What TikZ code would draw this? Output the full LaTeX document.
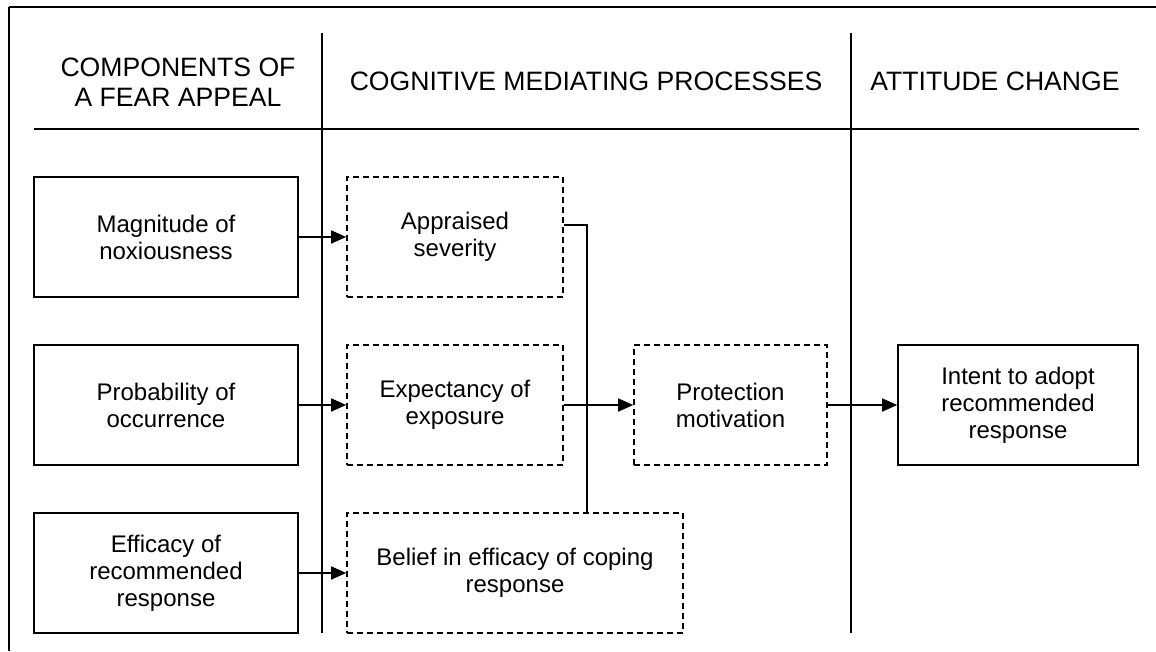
\documentclass[tikz,border=0pt]{standalone}
\usepackage{fontspec}
\setmainfont{Liberation Sans}
\usetikzlibrary{arrows.meta,calc}
\begin{document}
\begin{tikzpicture}[x=1pt,y=-1pt,
  line width=1.6pt,
  headtext/.style={align=center,font=\fontsize{26.6}{30}\selectfont,inner sep=0pt},
  boxtext/.style={align=center,font=\fontsize{24}{27}\selectfont},
  solidbox/.style={draw,boxtext,minimum height=120pt},
  dashbox/.style={draw,boxtext,minimum height=120pt,dash pattern=on 6pt off 4pt},
  arr/.style={-{Triangle[length=15pt,width=13pt]}}]
\useasboundingbox (0,0) rectangle (1156,651);

% outer frame (top and left edges)
\draw (9,7) -- (1156,7);
\draw (9,7) -- (9,651);

% column separators and header rule
\draw (322,33) -- (322,633);
\draw (851,33) -- (851,633);
\draw (34,129) -- (1139,129);

% column headings
\node[headtext] (h1) at (178,82) {COMPONENTS OF\\A FEAR APPEAL};
\node[headtext] (h2) at (586,81) {COGNITIVE MEDIATING PROCESSES};
\node[headtext] (h3) at (995,81) {ATTITUDE CHANGE};

% components of the appeal
\node[solidbox,minimum width=264pt] (mag) at (166,237) {Magnitude of\\noxiousness};
\node[solidbox,minimum width=264pt] (prob) at (166,405) {Probability of\\occurrence};
\node[solidbox,minimum width=264pt] (eff) at (166,573) {Efficacy of\\recommended\\response};

% mediating processes
\node[dashbox,minimum width=216pt] (apr) at (455,237) {Appraised\\severity};
\node[dashbox,minimum width=216pt] (exp) at (455,405) {Expectancy of\\exposure};
\node[dashbox,minimum width=336pt] (bel) at (515,573) {Belief in efficacy of coping\\response};
\node[dashbox,minimum width=193pt] (prot) at (730.5,405) {Protection\\motivation};

% attitude change
\node[solidbox,minimum width=240pt] (int) at (1018,405) {Intent to adopt\\recommended\\response};

% connectors
\draw[arr] (mag.east) -- (apr.west);
\draw[arr] (prob.east) -- (exp.west);
\draw[arr] (eff.east) -- (bel.west);
\draw[arr] (exp.east) -- (prot.west);
\draw[arr] (prot.east) -- (int.west);
\draw ($(apr.north east)!0.4!(apr.south east)$) -| ([xshift=23pt]apr.east |- bel.north);
\end{tikzpicture}
\end{document}
